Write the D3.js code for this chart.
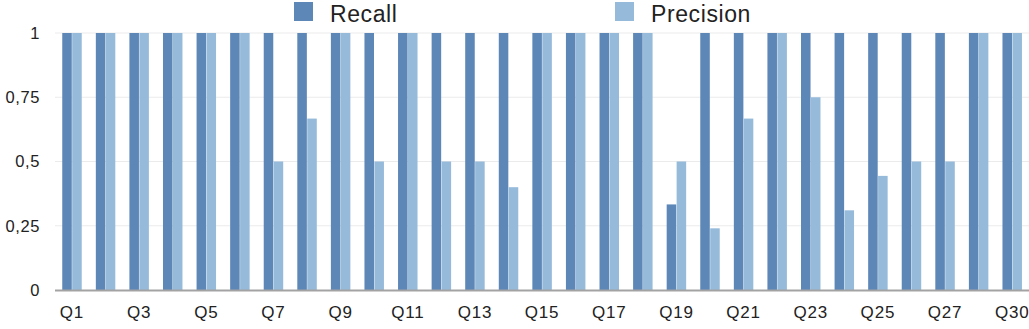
<!DOCTYPE html>
<html>
<head>
<meta charset="utf-8">
<script src="https://cdn.jsdelivr.net/npm/d3@7"></script>
<style>
  html, body { margin: 0; padding: 0; background: #fff; }
  svg { display: block; font-family: "Liberation Sans", Arial, Helvetica, sans-serif; }
</style>
</head>
<body>
<svg id="chart" width="1029" height="329"></svg>
<script>
const categories = ["Q1","Q2","Q3","Q4","Q5","Q6","Q7","Q8","Q9","Q10","Q11","Q12","Q13","Q14","Q15","Q16","Q17","Q18","Q19","Q20","Q21","Q22","Q23","Q24","Q25","Q26","Q27","Q28","Q30"];
const recall = [1,1,1,1,1,1,1,1,1,1,1,1,1,1,1,1,1,1,0.333,1,1,1,1,1,1,1,1,1,1];
const precision = [1,1,1,1,1,1,0.5,0.667,1,0.5,1,0.5,0.5,0.4,1,1,1,1,0.5,0.24,0.667,1,0.75,0.31,0.444,0.5,0.5,1,1];
const seriesNames = ["Recall","Precision"];
const yTicks = [0,0.25,0.5,0.75,1];
const yTickLabels = ["0","0,25","0,5","0,75","1"];
const xTickLabels = ["Q1","Q3","Q5","Q7","Q9","Q11","Q13","Q15","Q17","Q19","Q21","Q23","Q25","Q27","Q30"];

const colors = ["#5d87b7", "#96bada"];
const svg = d3.select("#chart");

const x = d3.scaleBand().domain(categories).range([55.2, 1029]).paddingInner(0.42).paddingOuter(0.21);
const y = d3.scaleLinear().domain([0, 1]).range([290, 33]);
const sub = d3.scaleBand().domain(seriesNames).range([0, x.bandwidth()]).paddingInner(0.04);

// gridlines
svg.append("g").selectAll("line").data(yTicks.filter(d => d > 0)).join("line")
  .attr("x1", 55).attr("x2", 1029)
  .attr("y1", d => y(d)).attr("y2", d => y(d))
  .attr("stroke", "#ebebeb").attr("stroke-width", 1);

// bars
const data = categories.map((c, i) => ({ c, vals: [recall[i], precision[i]] }));
const groups = svg.append("g").selectAll("g").data(data).join("g")
  .attr("transform", d => `translate(${x(d.c)},0)`);
groups.selectAll("rect").data(d => d.vals.map((v, k) => ({ k, v }))).join("rect")
  .attr("x", d => sub(seriesNames[d.k]))
  .attr("width", sub.bandwidth())
  .attr("y", d => y(d.v))
  .attr("height", d => y(0) - y(d.v))
  .attr("fill", d => colors[d.k]);

// x axis line
svg.append("line").attr("x1", 55).attr("x2", 1029).attr("y1", y(0) + 0.5).attr("y2", y(0) + 0.5)
  .attr("stroke", "#a3a3a3").attr("stroke-width", 2);

// y labels
svg.append("g").selectAll("text").data(yTicks).join("text")
  .attr("x", 40).attr("y", d => y(d)).attr("dy", "0.35em")
  .attr("text-anchor", "end").attr("font-size", 16.5).attr("letter-spacing", "0.6px")
  .attr("fill", "#222")
  .text((d, i) => yTickLabels[i]);

// x labels
svg.append("g").selectAll("text").data(xTickLabels).join("text")
  .attr("x", d => x(d) + x.bandwidth() / 2).attr("y", 318)
  .attr("text-anchor", "middle").attr("font-size", 17).attr("letter-spacing", "0.8px")
  .attr("fill", "#222")
  .text(d => d);

// legend
const legendX = [294, 615];
const lg = svg.append("g").selectAll("g").data(seriesNames).join("g")
  .attr("transform", (d, i) => `translate(${legendX[i]},2)`);
lg.append("rect").attr("width", 19).attr("height", 19).attr("fill", (d, i) => colors[i]);
lg.append("text").attr("x", 36).attr("y", 19.5).attr("font-size", 23).attr("letter-spacing", "0.6px")
  .attr("fill", "#222").text(d => d);
</script>
</body>
</html>
